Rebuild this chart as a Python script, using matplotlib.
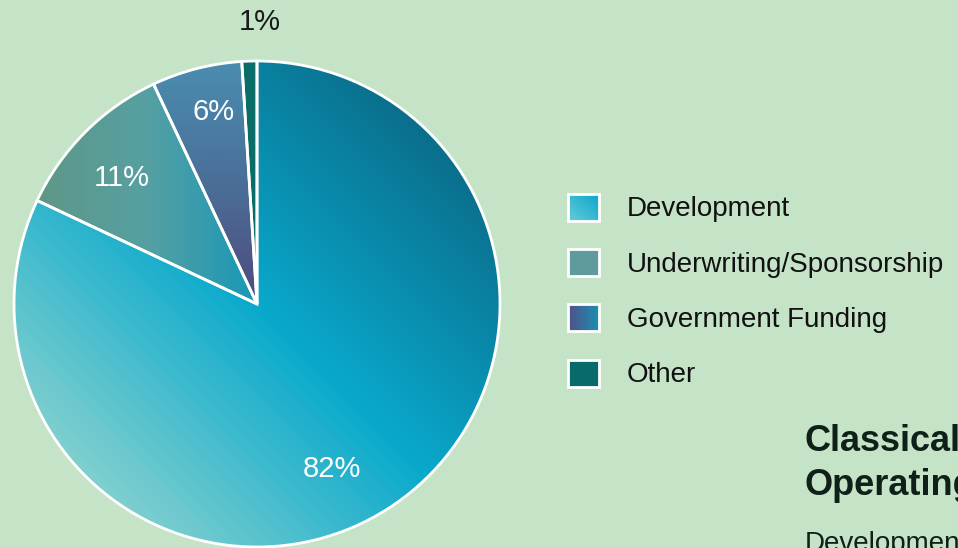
import numpy as np
import matplotlib.pyplot as plt
from matplotlib.colors import LinearSegmentedColormap
from matplotlib.patches import Patch, Rectangle
from matplotlib.legend_handler import HandlerBase

plt.rcParams['font.family'] = ['Liberation Sans', 'DejaVu Sans']

# data
labels = ["Development", "Underwriting/Sponsorship", "Government Funding", "Other"]
shares = [82, 11, 6, 1]
pct_labels = ["82%", "11%", "6%", "1%"]

# gradient fills: colour stops, direction, projection range
slice_colors = [["#80cfcf", "#08a9cc", "#0b6e8c"],
                ["#5f9786", "#56a0a2", "#1898b8"],
                ["#4f4a7e", "#4a6f98", "#4a8db0"],
                ["#0b6d68", "#0b6d68"]]
slice_dirs = [(0.707, 0.707), (1, 0), (0, 1), (1, 0)]
slice_ranges = [(-1.0, 1.0), (-0.92, 0.0), (0.0, 1.0), (-1.0, 1.0)]

legend_colors = [["#66cad8", "#0aa6cc"], ["#5f9a9c", "#5f9a9c"],
                 ["#524e86", "#1a90b2"], ["#086a6a", "#086a6a"]]
legend_dirs = [(0.707, 0.707), (1, 0), (1, 0), (1, 0)]

label_pos = [(0.31, -0.68), (-0.556, 0.52), (-0.177, 0.79), (0.012, 1.16)]
label_colors = ["white", "white", "white", "#1a1a1a"]

bg = "#c5e3c7"


class GradientSquare(HandlerBase):
    def __init__(self, colors, direction):
        super().__init__()
        self.cmap = LinearSegmentedColormap.from_list("h", colors)
        self.d = direction

    def create_artists(self, legend, orig_handle, xdescent, ydescent,
                       width, height, fontsize, trans):
        n = 12
        norm = abs(self.d[0]) + abs(self.d[1])
        arts = []
        for i in range(n):
            for j in range(n):
                u = (i + 0.5) / n * 2 - 1
                v = (j + 0.5) / n * 2 - 1
                t = ((u * self.d[0] + v * self.d[1]) / norm + 1) / 2
                arts.append(Rectangle((-xdescent + i * width / n, -ydescent + j * height / n),
                                      width / n, height / n, facecolor=self.cmap(t),
                                      linewidth=0, antialiased=False, transform=trans))
        arts.append(Rectangle((-xdescent, -ydescent), width, height, facecolor="none",
                              edgecolor="white", linewidth=2, transform=trans))
        return arts


fig = plt.figure(figsize=(9.58, 5.48), dpi=100, facecolor=bg)

lim = 1.1
size = 2 * lim * 243
ax = fig.add_axes([(257 - size / 2) / 958, (244 - size / 2) / 548, size / 958, size / 548])
ax.axis("off")

wedges, _ = ax.pie(shares, startangle=90, counterclock=False,
                   wedgeprops=dict(edgecolor="white", linewidth=2, facecolor="none"))

xx, yy = np.meshgrid(np.linspace(-lim, lim, 700), np.linspace(-lim, lim, 700))
for w, cols, d, (t0, t1) in zip(wedges, slice_colors, slice_dirs, slice_ranges):
    t = np.clip((xx * d[0] + yy * d[1] - t0) / (t1 - t0), 0, 1)
    cmap = LinearSegmentedColormap.from_list("g", cols)
    im = ax.imshow(t, cmap=cmap, vmin=0, vmax=1, extent=(-lim, lim, -lim, lim),
                   origin="lower", zorder=1, interpolation="bilinear")
    im.set_clip_path(w)
    w.set_zorder(2)

ax.set_xlim(-lim, lim)
ax.set_ylim(-lim, lim)
ax.set_aspect("equal")

for txt, (x, y), c in zip(pct_labels, label_pos, label_colors):
    ax.text(x, y, txt, color=c, fontsize=21, ha="center", va="center")

handles = [Patch(label=l) for l in labels]
hmap = {h: GradientSquare(c, d) for h, c, d in zip(handles, legend_colors, legend_dirs)}
fig.legend(handles=handles, handler_map=hmap, loc="center left",
           bbox_to_anchor=(554 / 958, (548 - 291) / 548), frameon=False,
           fontsize=20, handlelength=1.12, handleheight=1.12, handletextpad=1.0,
           labelspacing=0.95, borderpad=0, labelcolor="#111111")

fig.text(805 / 958, (548 - 451) / 548, "Classical", weight="bold", fontsize=26,
         color="#0f2018", va="baseline")
fig.text(805 / 958, (548 - 495) / 548, "Operating", weight="bold", fontsize=26,
         color="#0f2018", va="baseline")
fig.text(805 / 958, (548 - 551) / 548, "Development", fontsize=20,
         color="#0f2018", va="baseline")

fig.savefig("out.png", dpi=100, facecolor=bg)
